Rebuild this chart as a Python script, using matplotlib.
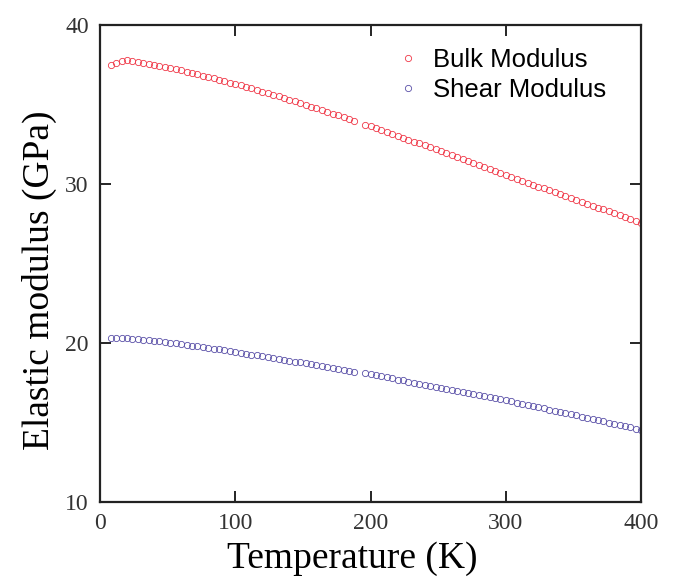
import numpy as np
import matplotlib
matplotlib.use('Agg')
import matplotlib.pyplot as plt

# temperature grid (K), a few points missing near 190 K as in the source
temp = [8, 12, 16, 20, 24, 28, 32, 36, 40, 44, 48, 52, 56, 60, 64, 68, 72, 76, 80, 84,
        88, 92, 96, 100, 104, 108, 112, 116, 120, 124, 128, 132, 136, 140, 144, 148,
        152, 156, 160, 164, 168, 172, 176, 180, 184, 188,
        196, 200, 204, 208, 212, 216, 220, 224, 228, 232, 236, 240, 244, 248, 252, 256,
        260, 264, 268, 272, 276, 280, 284, 288, 292, 296, 300, 304, 308, 312, 316, 320,
        324, 328, 332, 336, 340, 344, 348, 352, 356, 360, 364, 368, 372, 376, 380, 384,
        388, 392, 396, 400]

bulk = [37.50, 37.62, 37.72, 37.78, 37.74, 37.68, 37.62, 37.55, 37.49, 37.42, 37.35,
        37.28, 37.20, 37.13, 37.05, 36.97, 36.89, 36.81, 36.72, 36.64, 36.55, 36.46,
        36.37, 36.28, 36.19, 36.09, 36.00, 35.90, 35.80, 35.70, 35.60, 35.50, 35.39,
        35.29, 35.18, 35.08, 34.97, 34.86, 34.75, 34.64, 34.53, 34.42, 34.31, 34.19,
        34.08, 33.96,
        33.73, 33.61, 33.50, 33.38, 33.26, 33.14, 33.02, 32.90, 32.78, 32.66, 32.54,
        32.42, 32.30, 32.17, 32.05, 31.93, 31.80, 31.68, 31.55, 31.43, 31.30, 31.17,
        31.05, 30.92, 30.79, 30.66, 30.55, 30.43, 30.31, 30.19, 30.07, 29.95, 29.83,
        29.71, 29.59, 29.47, 29.35, 29.23, 29.11, 28.99, 28.87, 28.75, 28.63, 28.51,
        28.39, 28.27, 28.15, 28.03, 27.91, 27.79, 27.67, 27.55]

shear = [20.32, 20.33, 20.32, 20.30, 20.27, 20.24, 20.20, 20.17, 20.13, 20.09, 20.05,
         20.01, 19.97, 19.92, 19.88, 19.83, 19.79, 19.74, 19.69, 19.64, 19.59, 19.54,
         19.49, 19.44, 19.38, 19.33, 19.27, 19.22, 19.16, 19.10, 19.05, 18.99, 18.94,
         18.88, 18.82, 18.77, 18.71, 18.66, 18.60, 18.54, 18.49, 18.43, 18.37, 18.32,
         18.26, 18.20,
         18.09, 18.03, 17.96, 17.90, 17.83, 17.77, 17.70, 17.64, 17.57, 17.51, 17.44,
         17.38, 17.31, 17.25, 17.18, 17.12, 17.05, 16.99, 16.92, 16.85, 16.79, 16.72,
         16.66, 16.59, 16.53, 16.46, 16.40, 16.33, 16.25, 16.18, 16.11, 16.03, 15.96,
         15.88, 15.81, 15.74, 15.66, 15.59, 15.51, 15.44, 15.36, 15.29, 15.22, 15.14,
         15.07, 14.99, 14.92, 14.85, 14.77, 14.70, 14.62, 14.55]

xticks = [0, 100, 200, 300, 400]
yticks = [10, 20, 30, 40]

fig = plt.figure(figsize=(6.75, 5.77), dpi=100)
ax = fig.add_axes([0.148, 0.130, 0.802, 0.827])

ax.plot(temp, bulk, 'o', mfc='none', mec='#f03848', ms=4.5, mew=0.6, label='Bulk Modulus')
ax.plot(temp, shear, 'o', mfc='none', mec='#5a50a8', ms=4.5, mew=0.6, label='Shear Modulus')

ax.set_xlim(0, 400)
ax.set_ylim(10, 40)
ax.set_xticks(xticks)
ax.set_yticks(yticks)
ax.tick_params(direction='in', length=8, width=1.2, top=True, right=True,
               labelsize=17, pad=8)
for lab in ax.get_xticklabels() + ax.get_yticklabels():
    lab.set_family('Liberation Serif')
    lab.set_color('#333333')
for s in ax.spines.values():
    s.set_linewidth(1.6)
    s.set_color('#222222')

ax.set_xlabel('Temperature (K)', family='Liberation Serif', fontsize=27)
ax.set_ylabel('Elastic modulus (GPa)', family='Liberation Serif', fontsize=27)
ax.xaxis.set_label_coords(0.466, -0.082)
ax.yaxis.set_label_coords(-0.08, 0.465)

leg = ax.legend(loc='upper right', bbox_to_anchor=(0.955, 0.972), frameon=False,
                prop={'family': 'Liberation Sans', 'size': 18.5},
                handletextpad=0.5, borderaxespad=0.0, labelspacing=0.2, handlelength=1.0)

fig.savefig('out.png', dpi=100)
